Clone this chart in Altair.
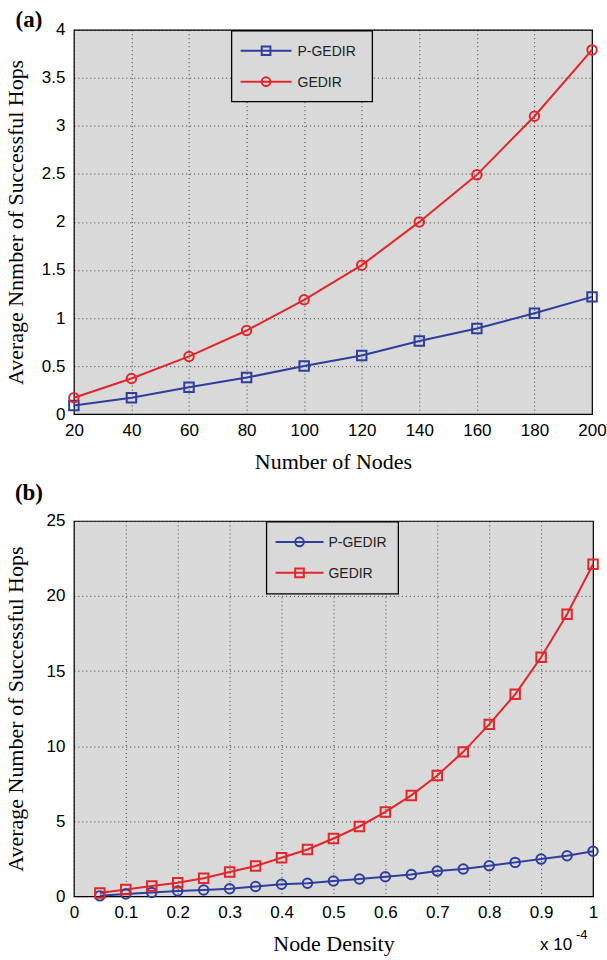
import altair as alt
import pandas as pd

# ---------------- data ----------------
series_names = ["P-GEDIR", "GEDIR"]

nodes = [20, 40, 60, 80, 100, 120, 140, 160, 180, 200]
a_pgedir = [0.09, 0.17, 0.28, 0.38, 0.50, 0.61, 0.76, 0.89, 1.05, 1.22]
a_gedir = [0.17, 0.37, 0.60, 0.87, 1.19, 1.55, 2.00, 2.49, 3.10, 3.79]

density = [0.05, 0.10, 0.15, 0.20, 0.25, 0.30, 0.35, 0.40, 0.45, 0.50,
           0.55, 0.60, 0.65, 0.70, 0.75, 0.80, 0.85, 0.90, 0.95, 1.00]
b_pgedir = [0.03, 0.15, 0.25, 0.35, 0.42, 0.50, 0.65, 0.80, 0.87, 1.02,
            1.15, 1.30, 1.45, 1.68, 1.82, 2.04, 2.26, 2.48, 2.70, 3.00]
b_gedir = [0.22, 0.45, 0.68, 0.90, 1.20, 1.62, 2.02, 2.57, 3.12, 3.85,
           4.65, 5.62, 6.72, 8.05, 9.62, 11.45, 13.45, 15.92, 18.78, 22.12]

a_xticks = [20, 40, 60, 80, 100, 120, 140, 160, 180, 200]
a_yticks = [0, 0.5, 1, 1.5, 2, 2.5, 3, 3.5, 4]
b_xticks = [0, 0.1, 0.2, 0.3, 0.4, 0.5, 0.6, 0.7, 0.8, 0.9, 1]
b_yticks = [0, 5, 10, 15, 20, 25]

BLUE = "#2f3d9c"
RED = "#e2262b"
BG = "#d9d9d9"

df_a = pd.concat([
    pd.DataFrame({"x": nodes, "y": a_pgedir, "series": "P-GEDIR"}),
    pd.DataFrame({"x": nodes, "y": a_gedir, "series": "GEDIR"}),
])
df_b = pd.concat([
    pd.DataFrame({"x": density, "y": b_pgedir, "series": "P-GEDIR"}),
    pd.DataFrame({"x": density, "y": b_gedir, "series": "GEDIR"}),
])

one = alt.Data(values=[{"k": 1}])


def axis(values, title, is_y, title_x=None):
    kw = dict(
        values=values, title=title, format="~r", grid=True,
        gridDash=[1, 3], gridColor="black", gridOpacity=0.75, gridWidth=1,
        domain=False, ticks=False, labelFlush=False, labelBound=False,
        labelFont="Liberation Sans", labelFontSize=17, labelColor="black",
        labelPadding=9 if is_y else 8,
        titleFont="Liberation Serif", titleFontSize=22, titleFontWeight="normal",
        titleColor="black", labelOverlap=False,
    )
    if is_y:
        kw["titleX"] = title_x
        kw["titleBaseline"] = "middle"
    else:
        kw["titlePadding"] = 13
    return alt.Axis(**kw)


def legend_row(xl0, xl1, xm, xt, yy, color, shape, label):
    rule = alt.Chart(one).mark_rule(color=color, strokeWidth=2).encode(
        x=alt.value(xl0), x2=alt.value(xl1), y=alt.value(yy))
    pt = alt.Chart(one).mark_point(filled=False, color=color, strokeWidth=2,
                                   size=75, shape=shape, opacity=1).encode(
        x=alt.value(xm), y=alt.value(yy))
    txt = alt.Chart(one).mark_text(text=label, align="left", baseline="middle",
                                   font="Liberation Sans", fontSize=14,
                                   color="#222222").encode(
        x=alt.value(xt), y=alt.value(yy + 1))
    return [rule, pt, txt]


def panel(df, w, h, xdom, xticks, xtitle, ydom, yticks, ytitle, shapes,
          box, rows, tag, tag_y, extra=()):
    X = alt.X("x:Q", scale=alt.Scale(domain=xdom, nice=False, zero=False),
              axis=axis(xticks, xtitle, False))
    Y = alt.Y("y:Q", scale=alt.Scale(domain=ydom, nice=False),
              axis=axis(yticks, ytitle, True, -58))
    col = alt.Color("series:N", scale=alt.Scale(domain=series_names, range=[BLUE, RED]),
                    legend=None)
    shp = alt.Shape("series:N", scale=alt.Scale(domain=series_names, range=shapes),
                    legend=None)
    base = alt.Chart(df)
    lines = base.mark_line(strokeWidth=2, clip=False).encode(x=X, y=Y, color=col)
    pts = base.mark_point(filled=False, strokeWidth=2, size=90, opacity=1,
                          clip=False).encode(x=X, y=Y, color=col, shape=shp)
    bx0, bx1, by0, by1 = box
    legbox = alt.Chart(one).mark_rect(fill=BG, stroke="black", strokeWidth=1.3).encode(
        x=alt.value(bx0), x2=alt.value(bx1), y=alt.value(by0), y2=alt.value(by1))
    layers = [lines, pts, legbox]
    for r in rows:
        layers += legend_row(*r)
    label = alt.Chart(one).mark_text(text=tag, font="Liberation Serif", fontSize=23,
                                     fontWeight="bold", align="center",
                                     baseline="middle", color="black").encode(
        x=alt.value(-45), y=alt.value(tag_y))
    layers.append(label)
    layers += list(extra)
    return alt.layer(*layers).properties(width=w, height=h)


pa = panel(
    df_a, 519, 385, [20, 200], a_xticks, "Number of Nodes", [0, 4], a_yticks,
    "Average Nnmber of Successful Hops", ["square", "circle"],
    (158, 299, 1, 72),
    [(167, 218, 192.5, 224, 21, BLUE, "square", "P-GEDIR"),
     (167, 218, 192.5, 224, 52, RED, "circle", "GEDIR")],
    "(a)", -10,
)

HB = 376
expo = [
    alt.Chart(one).mark_text(text="x 10", align="left", baseline="middle",
                             font="Liberation Sans", fontSize=17, color="black").encode(
        x=alt.value(467), y=alt.value(HB + 49)),
    alt.Chart(one).mark_text(text="-4", align="left", baseline="middle",
                             font="Liberation Sans", fontSize=13, color="black").encode(
        x=alt.value(503), y=alt.value(HB + 39)),
]

pb = panel(
    df_b, 520, HB, [0, 1], b_xticks, "Node Density", [0, 25], b_yticks,
    "Average Number of Successful Hops", ["circle", "square"],
    (193, 325, 1, 73),
    [(202, 250, 226, 255, 21, BLUE, "circle", "P-GEDIR"),
     (202, 250, 226, 255, 52, RED, "square", "GEDIR")],
    "(b)", -28, extra=expo,
)

chart = alt.vconcat(pa, pb, spacing=8).resolve_scale(
    x="independent", y="independent", color="independent", shape="independent"
).properties(
    padding={"left": 4, "top": 7, "right": 0, "bottom": 0},
    background="white",
).configure_view(fill=BG, stroke="black", strokeWidth=1.2)

chart.save("out.html", embed_options={"renderer": "svg", "actions": False})
